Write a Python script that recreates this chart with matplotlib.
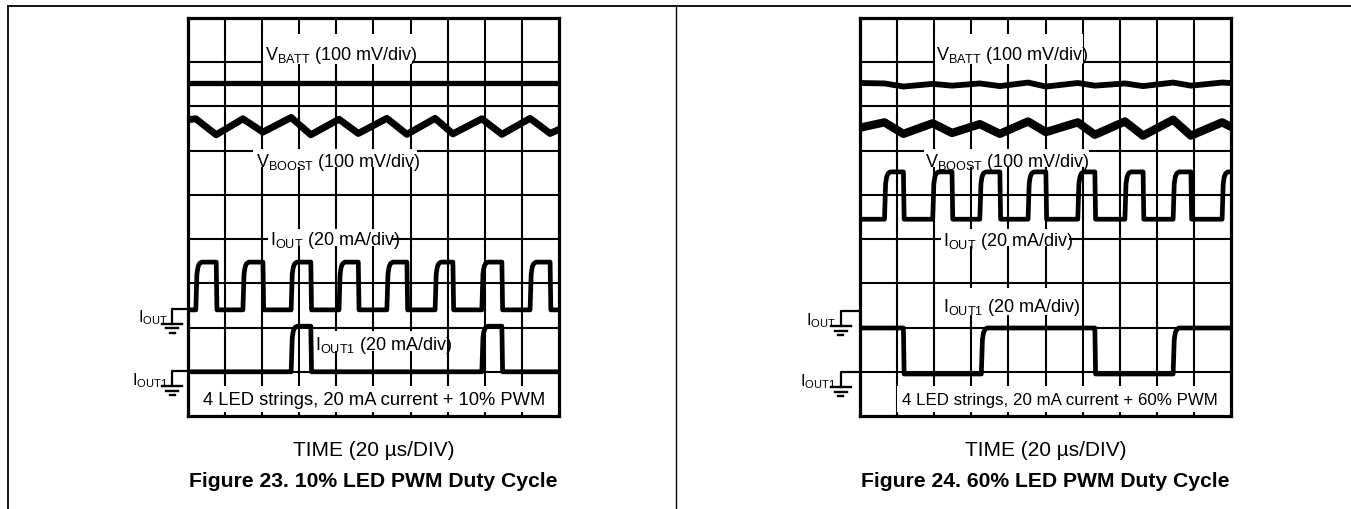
import matplotlib
matplotlib.use("Agg")
import matplotlib.pyplot as plt
from matplotlib.lines import Line2D
from matplotlib.patches import Rectangle

plt.rcParams['font.family'] = ['Liberation Sans', 'DejaVu Sans']
plt.rcParams['mathtext.default'] = 'regular'

# all trace values in scope divisions: x = 0..10 (20 us/div), y = 0..9 counted from the top line
# --- Figure 23, 10 % PWM ---
iout_rise_10 = [0.21, 1.48, 2.78, 4.07, 5.36, 6.66, 7.92, 9.22]
iout_fall_10 = [0.76, 2.02, 3.31, 4.59, 5.90, 7.14, 8.46, 9.76]
iout_level_10 = (5.52, 6.60)      # high, low
iout1_rise_10 = [2.78, 7.92]
iout1_fall_10 = [3.31, 8.46]
iout1_level_10 = (6.97, 8.00)
batt_x_10 = [0, 10]
batt_y_10 = [1.48, 1.48]
boost_x_10 = [0, 0.21, 0.76, 1.48, 2.02, 2.78, 3.31, 4.07, 4.59, 5.36, 5.90, 6.66, 7.14, 7.92, 8.46, 9.22, 9.76, 10]
boost_y_10 = [2.30, 2.28, 2.64, 2.28, 2.58, 2.25, 2.64, 2.29, 2.61, 2.27, 2.63, 2.27, 2.62, 2.28, 2.63, 2.27, 2.61, 2.52]

# --- Figure 24, 60 % PWM ---
iout_rise_60 = [0.66, 1.96, 3.23, 4.53, 5.87, 7.14, 8.44, 9.76]
iout_fall_60 = [1.17, 2.48, 3.77, 5.01, 6.33, 7.63, 8.92]
iout_level_60 = (3.48, 4.55)
iout1_rise_60 = [3.27, 8.44]
iout1_fall_60 = [1.17, 6.33]
iout1_level_60 = (7.01, 8.05)
batt_x_60 = [0, 0.66, 1.17, 1.96, 2.48, 3.23, 3.77, 4.53, 5.01, 5.87, 6.33, 7.14, 7.63, 8.44, 8.92, 9.76, 10]
batt_y_60 = [1.47, 1.48, 1.55, 1.49, 1.53, 1.48, 1.54, 1.46, 1.55, 1.47, 1.53, 1.48, 1.54, 1.46, 1.53, 1.46, 1.47]
boost_x_60 = [0, 0.66, 1.17, 1.96, 2.48, 3.23, 3.77, 4.53, 5.01, 5.87, 6.33, 7.14, 7.63, 8.44, 8.92, 9.76, 10]
boost_y_60 = [2.48, 2.36, 2.62, 2.38, 2.60, 2.40, 2.62, 2.34, 2.58, 2.36, 2.64, 2.34, 2.66, 2.30, 2.66, 2.36, 2.46]

RISE_SHAPE = [(0.0, 0.0), (0.03, 0.75), (0.06, 0.9), (0.10, 0.97), (0.16, 1.0)]


def pulse_train(rises, falls, level, start_high=False):
    hi, lo = level
    events = sorted([(t, 1) for t in rises] + [(t, 0) for t in falls])
    xs = [0.0]
    ys = [hi if start_high else lo]
    for t, up in events:
        if up:
            for dx, fr in RISE_SHAPE:
                xs.append(t + dx)
                ys.append(lo + (hi - lo) * fr)
        else:
            xs += [t, t + 0.02]
            ys += [hi, lo]
    xs.append(10)
    ys.append(ys[-1])
    return xs, ys


def ground(ax, y, x0, label):
    # little ground symbol left of the grid
    ax.plot([0, x0, x0], [y, y, y + 0.33], color='k', lw=1.6, clip_on=False)
    for dy, half in [(0.34, 0.27), (0.44, 0.16), (0.54, 0.06)]:
        ax.plot([x0 - half, x0 + half], [y + dy, y + dy], color='k', lw=1.7, clip_on=False)
    ax.text(x0 - 0.13, y - 0.03, label, ha='right', va='top', fontsize=11.5, clip_on=False)


def scope(ax, d, fig_no, pwm):
    ax.set_xlim(0, 10)
    ax.set_ylim(9, 0)
    ax.set_xticks([])
    ax.set_yticks([])
    for s in ax.spines.values():
        s.set_linewidth(2.3)
        s.set_zorder(6)
    for i in range(1, 10):
        ax.axvline(i, color='k', lw=1.5, zorder=1)
    for j in range(1, 9):
        ax.axhline(j, color='k', lw=1.5, zorder=1)

    # white boxes behind the labels hide the grid
    for x0, x1, y0, y1 in d['masks']:
        ax.add_patch(Rectangle((x0, y0), x1 - x0, y1 - y0, facecolor='white',
                               edgecolor='none', zorder=2))
    for x, y, s, fs in d['labels']:
        ax.text(x, y, s, ha='left', va='baseline', fontsize=fs, zorder=4)

    ax.plot(d['batt_x'], d['batt_y'], color='k', lw=d['lw'][0], zorder=3, solid_joinstyle='round')
    ax.plot(d['boost_x'], d['boost_y'], color='k', lw=d['lw'][1], zorder=3, solid_joinstyle='round')
    x, y = pulse_train(d['iout_rise'], d['iout_fall'], d['iout_level'])
    ax.plot(x, y, color='k', lw=3.4, zorder=3)
    x, y = pulse_train(d['iout1_rise'], d['iout1_fall'], d['iout1_level'], d['iout1_start_high'])
    ax.plot(x, y, color='k', lw=3.4, zorder=3)

    ground(ax, d['gnd'][0], d['gnd_x'], '$I_{OUT}$')
    ground(ax, d['gnd'][1], d['gnd_x'], '$I_{OUT1}$')

    ax.text(5, 9.75, 'TIME (20 µs/DIV)', ha='center', va='center', fontsize=15, clip_on=False)
    ax.text(5, 10.45, 'Figure %d. %d%% LED PWM Duty Cycle' % (fig_no, pwm), ha='center',
            va='center', fontsize=15.2, fontweight='bold', clip_on=False)


left = dict(
    batt_x=batt_x_10, batt_y=batt_y_10, boost_x=boost_x_10, boost_y=boost_y_10, lw=(3.8, 5.0),
    iout_rise=iout_rise_10, iout_fall=iout_fall_10, iout_level=iout_level_10,
    iout1_rise=iout1_rise_10, iout1_fall=iout1_fall_10, iout1_level=iout1_level_10,
    iout1_start_high=False, gnd=(6.58, 7.99), gnd_x=-0.42,
    masks=[(2.02, 6.04, 0.36, 1.03), (1.75, 6.17, 2.96, 3.37), (2.16, 5.50, 4.77, 5.16),
           (3.37, 6.93, 7.08, 7.53), (0.22, 9.81, 8.33, 8.91)],
    labels=[(2.08, 0.93, '$V_{BATT}$ (100 mV/div)', 13),
            (1.83, 3.35, '$V_{BOOST}$ (100 mV/div)', 13),
            (2.21, 5.11, '$I_{OUT}$ (20 mA/div)', 13),
            (3.42, 7.49, '$I_{OUT1}$ (20 mA/div)', 13),
            (0.40, 8.73, '4 LED strings, 20 mA current + 10% PWM', 13.2)],
)
right = dict(
    batt_x=batt_x_60, batt_y=batt_y_60, boost_x=boost_x_60, boost_y=boost_y_60, lw=(4.2, 6.0),
    iout_rise=iout_rise_60, iout_fall=iout_fall_60, iout_level=iout_level_60,
    iout1_rise=iout1_rise_60, iout1_fall=iout1_fall_60, iout1_level=iout1_level_60,
    iout1_start_high=True, gnd=(6.63, 8.01), gnd_x=-0.52,
    masks=[(2.02, 6.00, 0.36, 1.03), (1.72, 6.17, 2.96, 3.37), (2.18, 5.62, 4.77, 5.16),
           (2.18, 5.76, 6.10, 6.72), (1.00, 9.81, 8.33, 8.91)],
    labels=[(2.04, 0.93, '$V_{BATT}$ (100 mV/div)', 13),
            (1.75, 3.35, '$V_{BOOST}$ (100 mV/div)', 13),
            (2.23, 5.14, '$I_{OUT}$ (20 mA/div)', 13),
            (2.24, 6.63, '$I_{OUT1}$ (20 mA/div)', 13),
            (1.12, 8.73, '4 LED strings, 20 mA current + 60% PWM', 12.2)],
)

W, H = 1351, 510
fig = plt.figure(figsize=(W / 100, H / 100), dpi=100)
ax1 = fig.add_axes([188 / W, 1 - 417 / H, 371 / W, 398 / H])
ax2 = fig.add_axes([860 / W, 1 - 417 / H, 371 / W, 398 / H])
scope(ax1, left, 23, 10)
scope(ax2, right, 24, 60)

# page frame lines
fig.add_artist(Line2D([8 / W, 1], [1 - 7 / H, 1 - 7 / H], transform=fig.transFigure, color='k', lw=1.3))
fig.add_artist(Line2D([8 / W, 8 / W], [0, 1 - 7 / H], transform=fig.transFigure, color='k', lw=1.3))
fig.add_artist(Line2D([676 / W, 676 / W], [0, 1 - 7 / H], transform=fig.transFigure, color='k', lw=1.0))

fig.savefig('out.png', dpi=100)
